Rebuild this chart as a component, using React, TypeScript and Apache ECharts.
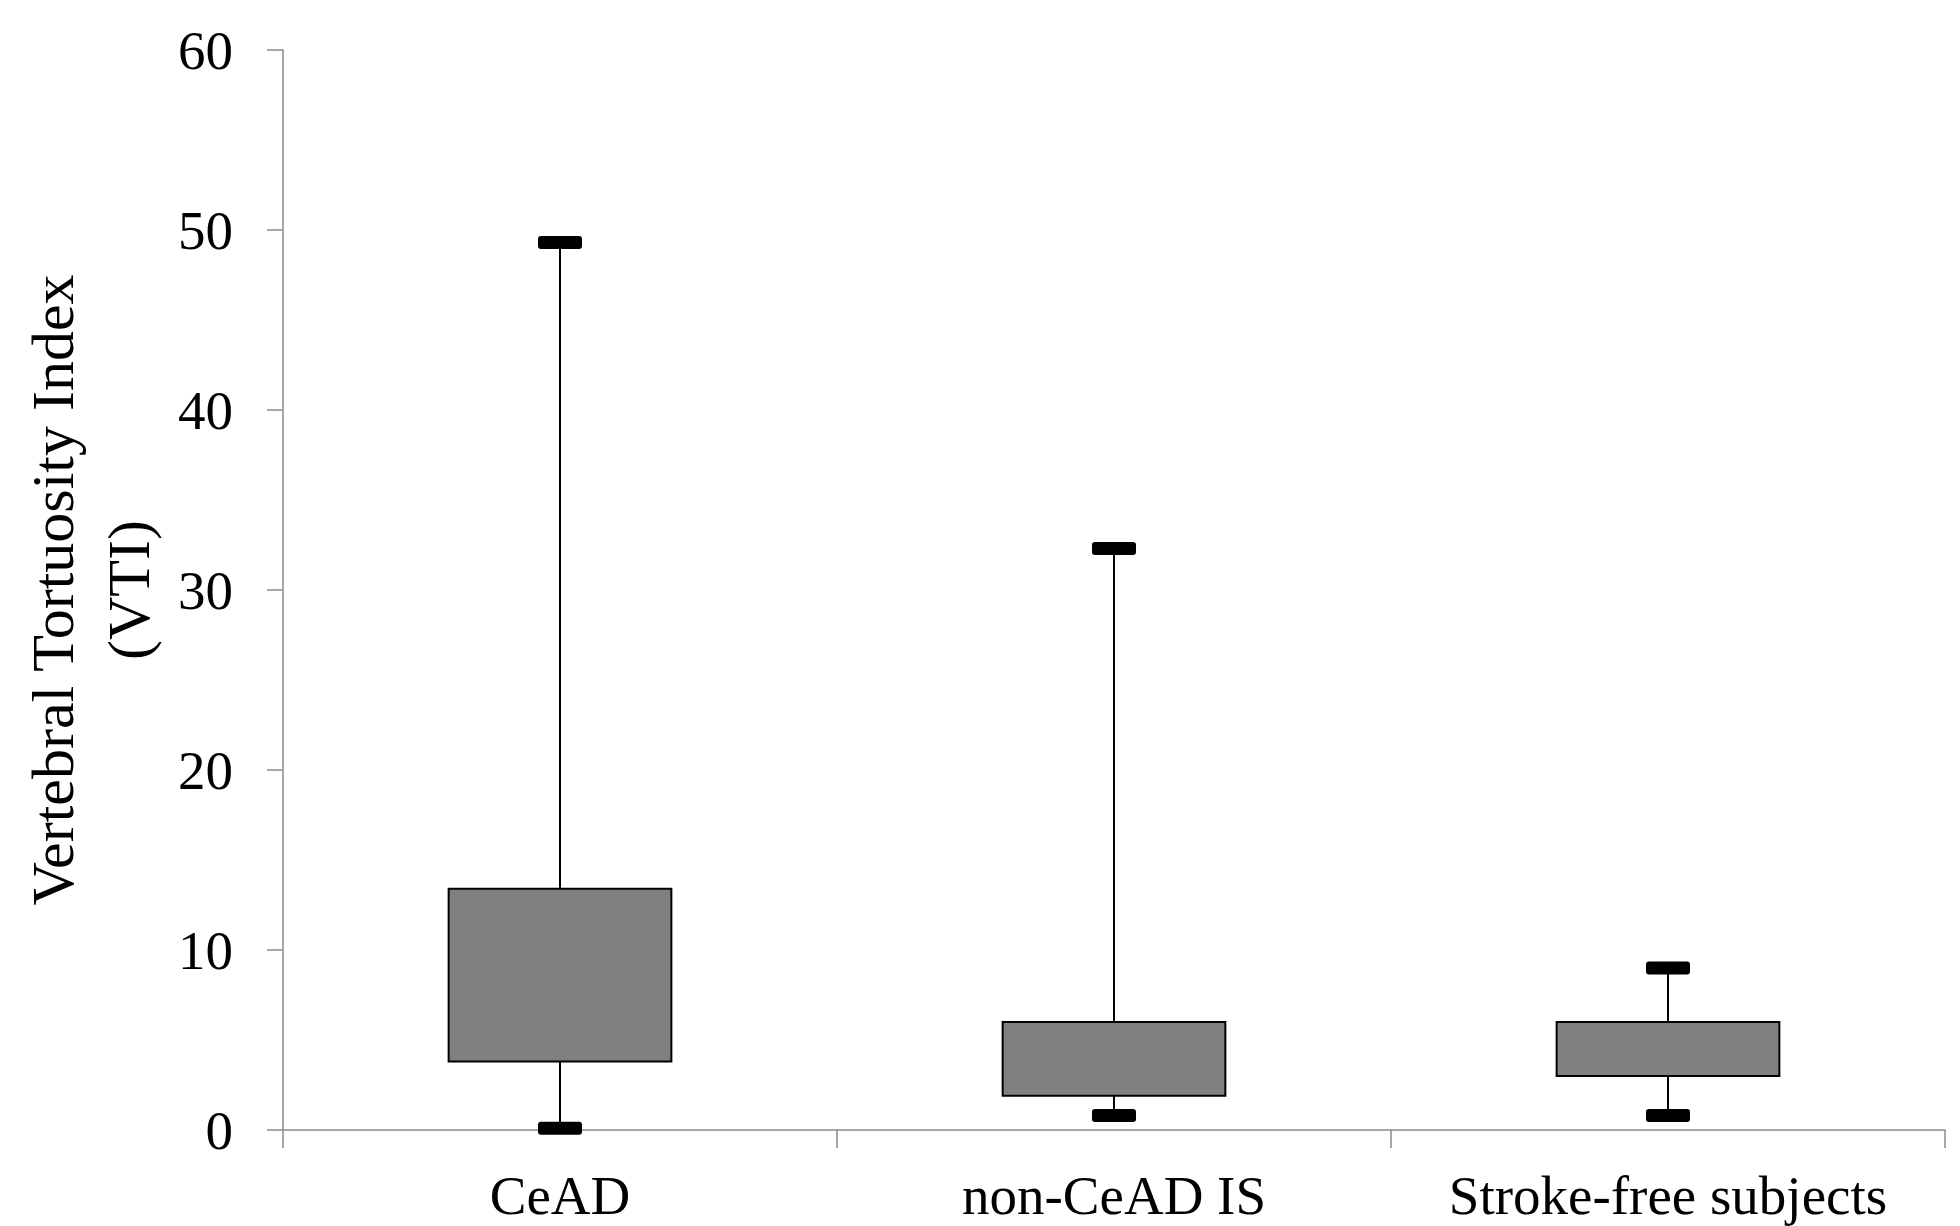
import React, { useEffect, useRef } from "react";
import * as echarts from "echarts";

const categories = ["CeAD", "non-CeAD IS", "Stroke-free subjects"];
const whiskerLow = [0.1, 0.8, 0.8];
const boxLow = [3.8, 1.9, 3.0];
const boxHigh = [13.4, 6.0, 6.0];
const whiskerHigh = [49.3, 32.3, 9.0];
const yTicks = [0, 10, 20, 30, 40, 50, 60];

const FONT = '"Liberation Serif", "Times New Roman", serif';

export default function App() {
  const ref = useRef<HTMLDivElement>(null);
  useEffect(() => {
    if (!ref.current) return;
    const chart = echarts.init(ref.current, undefined, { renderer: "svg" });
    const data = categories.map((_, i) => [i, whiskerLow[i], boxLow[i], boxHigh[i], whiskerHigh[i]]);
    chart.setOption({
      animation: false,
      backgroundColor: "#ffffff",
      grid: { left: 283, right: 15, top: 50, bottom: 96, containLabel: false, outerBoundsMode: "none" },
      xAxis: {
        type: "category",
        data: categories,
        boundaryGap: true,
        axisLine: { show: true, lineStyle: { color: "#8a8a8a", width: 1.5 } },
        axisTick: { show: true, length: 18, inside: false, lineStyle: { color: "#8a8a8a", width: 1.5 } },
        axisLabel: { color: "#000", fontFamily: FONT, fontSize: 55, lineHeight: 55, margin: 38, interval: 0 },
        splitLine: { show: false },
      },
      yAxis: {
        type: "value",
        min: yTicks[0],
        max: yTicks[yTicks.length - 1],
        interval: 10,
        name: "Vertebral Tortuosity Index\n(VTI)",
        nameLocation: "middle",
        nameGap: 104,
        nameRotate: 90,
        nameTextStyle: { color: "#000", fontFamily: FONT, fontSize: 60, lineHeight: 76 },
        axisLine: { show: true, lineStyle: { color: "#8a8a8a", width: 1.5 } },
        axisTick: { show: true, length: 16, inside: false, lineStyle: { color: "#8a8a8a", width: 1.5 } },
        axisLabel: { color: "#000", fontFamily: FONT, fontSize: 55, margin: 50 },
        splitLine: { show: false },
      },
      series: [
        {
          type: "custom",
          data,
          encode: { x: 0, y: [1, 2, 3, 4] },
          z: 10,
          renderItem: (params: any, api: any) => {
            const xi = api.value(0);
            const lo = api.coord([xi, api.value(1)]);
            const q1 = api.coord([xi, api.value(2)]);
            const q3 = api.coord([xi, api.value(3)]);
            const hi = api.coord([xi, api.value(4)]);
            const band = api.size([1, 0])[0];
            const bw = band * 0.402;
            const cx = lo[0];
            const capW = 44;
            const capH = 13;
            return {
              type: "group",
              children: [
                {
                  type: "line",
                  shape: { x1: cx, y1: hi[1], x2: cx, y2: lo[1] },
                  style: { stroke: "#000", lineWidth: 2 },
                },
                {
                  type: "rect",
                  shape: { x: cx - bw / 2, y: q3[1], width: bw, height: q1[1] - q3[1] },
                  style: { fill: "#808080", stroke: "#000", lineWidth: 2 },
                },
                {
                  type: "rect",
                  shape: { x: cx - capW / 2, y: hi[1] - capH / 2, width: capW, height: capH, r: 3 },
                  style: { fill: "#000" },
                },
                {
                  type: "rect",
                  shape: { x: cx - capW / 2, y: lo[1] - capH / 2, width: capW, height: capH, r: 3 },
                  style: { fill: "#000" },
                },
              ],
            };
          },
        },
      ],
    });
    return () => chart.dispose();
  }, []);
  return (
    <div
      ref={ref}
      style={{ position: "fixed", left: 0, top: 0, width: 1960, height: 1226, background: "#fff" }}
    />
  );
}
